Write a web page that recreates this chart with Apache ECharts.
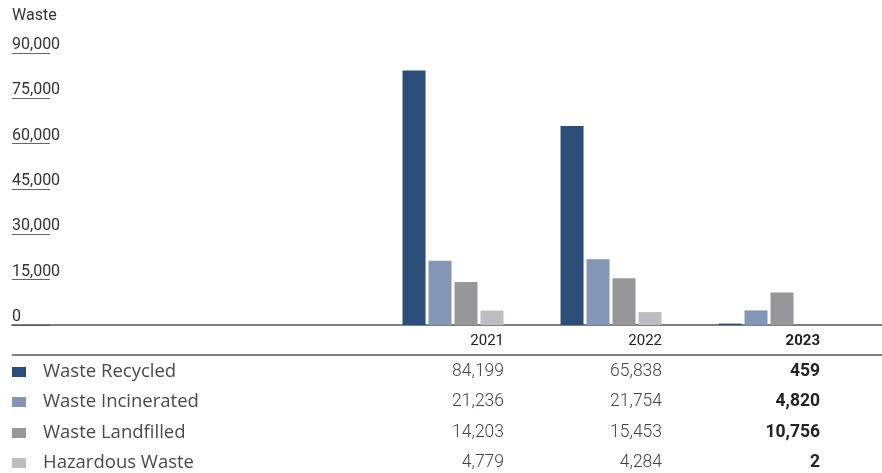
<!DOCTYPE html>
<html><head><meta charset="utf-8">
<script src="https://cdn.jsdelivr.net/npm/echarts@6/dist/echarts.min.js"></script>
<style>html,body{margin:0;padding:0;background:#fff}#c{width:882px;height:473px}</style>
</head><body><div id="c"></div>
<script>
const years = ['2021', '2022', '2023'];
const seriesNames = ['Waste Recycled', 'Waste Incinerated', 'Waste Landfilled', 'Hazardous Waste'];
const recycled = [84199, 65838, 459];
const incinerated = [21236, 21754, 4820];
const landfilled = [14203, 15453, 10756];
const hazardous = [4779, 4284, 2];
const colors = ['#2a4e78', '#8396b5', '#97979a', '#bdbec2'];
const yAxisTitle = 'Waste';

const allSeries = [recycled, incinerated, landfilled, hazardous];
const FONT = 'Roboto';
const LFONT = 'Open Sans';
const chart = echarts.init(document.getElementById('c'));
const fmt = v => v.toLocaleString('en-US');

chart.setOption({
  animation: false,
  textStyle: { fontFamily: FONT },
  grid: [
    { left: 12, width: 38, top: 53, bottom: 148 },
    { left: 12, right: 0, top: 53, bottom: 148 }
  ],
  xAxis: [
    { gridIndex: 0, type: 'value', show: false },
    { gridIndex: 1, type: 'value', min: -2.791, max: 2.715,
      axisLine: { show: true, onZero: false, lineStyle: { color: '#555', width: 1.5 } },
      axisTick: { show: false }, axisLabel: { show: false }, splitLine: { show: false } }
  ],
  yAxis: [
    { gridIndex: 0, type: 'value', min: 0, max: 90000, interval: 15000,
      axisLine: { show: false }, axisTick: { show: false },
      splitLine: { show: true, lineStyle: { color: '#666', width: 1 } },
      axisLabel: { inside: true, margin: 0, verticalAlign: 'bottom', padding: [0, 0, 0, 0],
        color: '#333', fontSize: 16, fontFamily: FONT,
        formatter: v => fmt(v) } },
    { gridIndex: 1, type: 'value', min: 0, max: 90000, show: false }
  ],
  series: allSeries.map((d, i) => ({
    type: 'bar', name: seriesNames[i], xAxisIndex: 1, yAxisIndex: 1,
    barWidth: 23, barGap: '13%',
    itemStyle: { color: colors[i] },
    data: d.map((v, j) => [j, v])
  }))
});

const graphics = [];
graphics.push({ type: 'text', x: 12, y: 16, style: { text: yAxisTitle, fontSize: 16, fontFamily: FONT, fill: '#333', verticalAlign: 'middle' } });
graphics.push({ type: 'line', shape: { x1: 12, y1: 355, x2: 882, y2: 355 }, style: { stroke: '#555', lineWidth: 1.5 } });
const rowY = [372, 402, 433, 463];
years.forEach((yr, j) => {
  const xr = chart.convertToPixel({ xAxisIndex: 1 }, j) + 51;
  const bold = j === years.length - 1;
  graphics.push({ type: 'text', x: xr, y: 341,
    style: { text: yr, fontSize: 15, fontFamily: FONT, fontWeight: bold ? 'bold' : 'normal', fill: '#222', align: 'right', verticalAlign: 'middle' } });
  allSeries.forEach((d, i) => {
    graphics.push({ type: 'text', x: xr, y: rowY[i],
      style: { text: fmt(d[j]), fontSize: 17.5, fontFamily: FONT, fontWeight: bold ? 'bold' : 300, fill: bold ? '#222' : '#444', align: 'right', verticalAlign: 'middle' } });
  });
});
seriesNames.forEach((n, i) => {
  graphics.push({ type: 'rect', shape: { x: 12, y: rowY[i] - 5, width: 14, height: 10 }, style: { fill: colors[i] } });
  graphics.push({ type: 'text', x: 43, y: rowY[i],
    style: { text: n, fontSize: 18.5, fontFamily: LFONT, fontWeight: 'normal', fill: '#4a4a4a', verticalAlign: 'middle' } });
});
chart.setOption({ graphic: graphics });
</script></body></html>
